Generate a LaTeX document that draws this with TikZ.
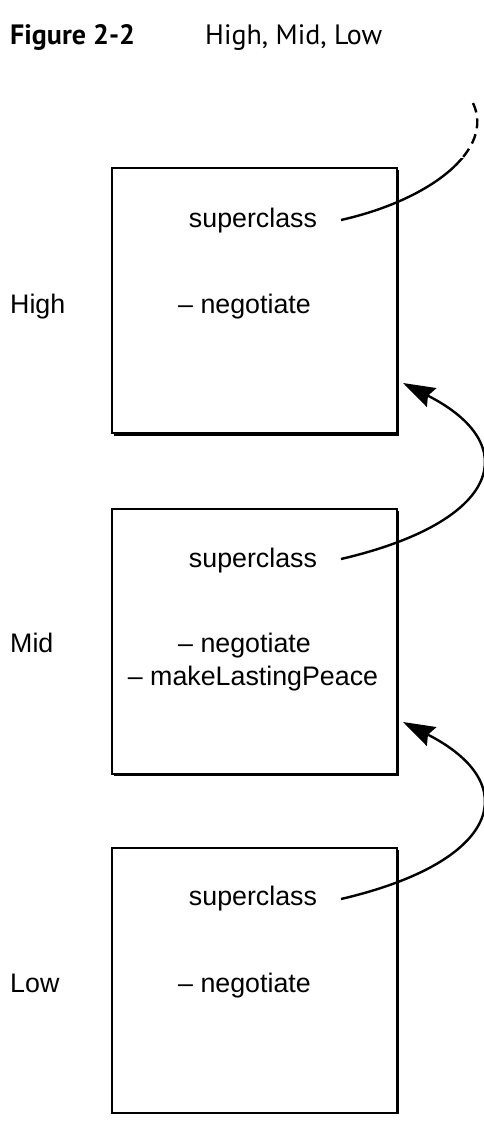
\documentclass[tikz,border=0pt]{standalone}
\usepackage{fontspec}
\setmainfont{Liberation Sans}
\newfontfamily\titlefont{PT Sans}
\usetikzlibrary{arrows.meta}
\begin{document}
\begin{tikzpicture}[x=1pt,y=-1pt,
  cls/.style={draw, line width=2pt, fill=white, anchor=north west,
    minimum width=285pt, minimum height=265pt, inner sep=0pt},
  shade/.style={fill=black},
  txt/.style={inner sep=0pt, font=\fontsize{26.8}{32}\selectfont},
  ttl/.style={inner sep=0pt, anchor=base west, font=\titlefont\fontsize{28}{32}\selectfont},
  link/.style={line width=2.4pt},
  tip/.style={-{Stealth[length=32pt,width=21pt,inset=4pt]}}]
\useasboundingbox (0,0) rectangle (484,1124);

% title
\node[ttl] (fig) at (10,45) {\bfseries Figure 2-2};
\node[ttl] (cap) at (205,45) {High, Mid, Low};

% shadows
\fill[shade] (114,170) rectangle (399,436);
\fill[shade] (114,511) rectangle (399,776);
\fill[shade] (114,850) rectangle (399,1114);

% boxes
\node[cls] (high) at (111,167) {};
\node[cls] (mid)  at (111,508) {};
\node[cls] (low)  at (111,847) {};

% High
\node[txt, anchor=base] (hsc) at (253,227) {superclass};
\node[txt, anchor=base west] (hneg) at (178,313) {– negotiate};
\node[txt, anchor=base west] (hlab) at (10,313) {High};

% Mid
\node[txt, anchor=base] (msc) at (253,567) {superclass};
\node[txt, anchor=base west] (mneg) at (178,652) {– negotiate};
\node[txt, anchor=base] (mpeace) at (253,685) {– makeLastingPeace};
\node[txt, anchor=base west] (mlab) at (10,652) {Mid};

% Low
\node[txt, anchor=base] (lsc) at (253,905) {superclass};
\node[txt, anchor=base west] (lneg) at (178,992) {– negotiate};
\node[txt, anchor=base west] (llab) at (10,992) {Low};

% connector anchors
\coordinate (hs) at (341,220);
\coordinate (hup) at (473,103);
\coordinate (ms) at (341,559);
\coordinate (mtip) at (403,383);
\coordinate (ls) at (341,899);
\coordinate (ltip) at (403,722);

% High -> (root), solid then dashed
\begin{scope}
  \clip (0,158) rectangle (484,1124);
  \draw[link] (hs) .. controls +(89,-20) and +(22,47) .. (hup);
\end{scope}
\begin{scope}
  \clip (0,0) rectangle (484,158);
  \draw[link, dash pattern=on 10pt off 6pt] (hup) .. controls +(22,47) and +(89,-20) .. (hs);
\end{scope}

% Mid -> High
\draw[link, tip] (ms) .. controls +(159,-37) and +(122,62) .. (mtip);
% Low -> Mid
\draw[link, tip] (ls) .. controls +(159,-37) and +(122,62) .. (ltip);
\end{tikzpicture}
\end{document}
